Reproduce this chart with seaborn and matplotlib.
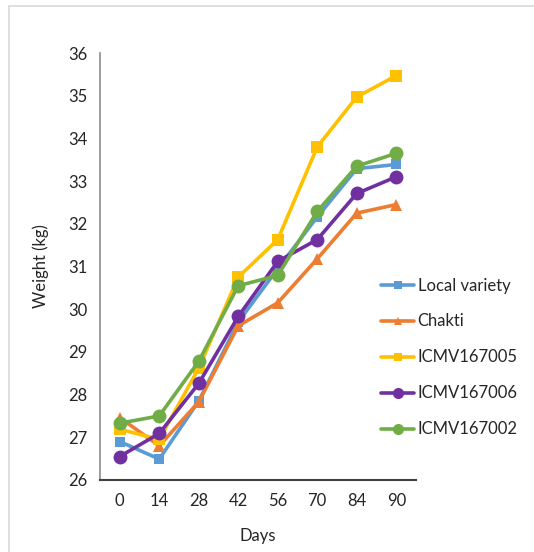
import matplotlib
matplotlib.use("Agg")
import matplotlib.pyplot as plt
import seaborn as sns
import pandas as pd
from matplotlib.lines import Line2D

days = ["0", "14", "28", "42", "56", "70", "84", "90"]
local_variety = [26.90, 26.49, 27.85, 29.70, 30.95, 32.16, 33.29, 33.39]
chakti = [27.46, 26.80, 27.83, 29.61, 30.15, 31.18, 32.25, 32.45]
icmv167005 = [27.19, 26.95, 28.62, 30.75, 31.63, 33.80, 34.97, 35.47]
icmv167006 = [26.55, 27.09, 28.26, 29.83, 31.12, 31.63, 32.71, 33.10]
icmv167002 = [27.33, 27.50, 28.78, 30.55, 30.79, 32.29, 33.35, 33.65]
series_names = ["Local variety", "Chakti", "ICMV167005", "ICMV167006", "ICMV167002"]
y_ticks = [26, 27, 28, 29, 30, 31, 32, 33, 34, 35, 36]

series_values = [local_variety, chakti, icmv167005, icmv167006, icmv167002]
rows = []
for name, vals in zip(series_names, series_values):
    for d, v in zip(days, vals):
        rows.append({"Days": d, "Weight": v, "Variety": name})
df = pd.DataFrame(rows)

colors = ["#5B9BD5", "#ED7D31", "#FFC000", "#7030A0", "#70AD47"]
markers = ["s", "^", "s", "o", "o"]
msizes = [7, 8, 8, 10, 10]

sns.set_style("white")
plt.rcParams["font.family"] = ["Lato", "DejaVu Sans"]

fig = plt.figure(figsize=(5.34, 5.52), dpi=100)
ax = fig.add_axes([100/534, 1-480/552, 316/534, 427/552])

for name, c, m, ms in zip(series_names, colors, markers, msizes):
    sub = df[df["Variety"] == name]
    sns.lineplot(data=sub, x="Days", y="Weight", ax=ax, color=c, marker=m,
                 markersize=ms, markeredgewidth=0, linewidth=2.6, sort=False,
                 label=name, legend=False)

ax.set_ylim(26, 36)
ax.set_yticks(y_ticks)
ax.set_xlim(-0.5, len(days) - 0.5)
ax.set_xlabel("Days", fontsize=12, color="#262626", labelpad=14)
ax.set_ylabel("Weight (kg)", fontsize=12, color="#262626", labelpad=14)
ax.tick_params(axis="both", labelsize=12, colors="#262626", length=0, pad=9)
for s in ["top", "right"]:
    ax.spines[s].set_visible(False)
ax.spines["left"].set_color("#8c8c8c")
ax.spines["left"].set_linewidth(1.2)
ax.spines["bottom"].set_color("#404040")
ax.spines["bottom"].set_linewidth(1.5)
ax.grid(False)

handles = [Line2D([0], [0], color=c, marker=m, markersize=ms*0.8, markeredgewidth=0, linewidth=2.6)
           for c, m, ms in zip(colors, markers, msizes)]
fig.legend(handles, series_names, loc="upper left", bbox_to_anchor=(381/534, 1-277.5/552),
           frameon=False, fontsize=12, handlelength=2.0, handletextpad=0.2,
           labelspacing=1.2, borderaxespad=0, borderpad=0, labelcolor="#262626")

# light frame on left and top
fig.add_artist(Line2D([9/534, 9/534], [0, 1-6/552], transform=fig.transFigure, color="#d9d9d9", linewidth=1.2))
fig.add_artist(Line2D([9/534, 1], [1-6/552, 1-6/552], transform=fig.transFigure, color="#d9d9d9", linewidth=1.2))

fig.savefig("out.png", dpi=100)
